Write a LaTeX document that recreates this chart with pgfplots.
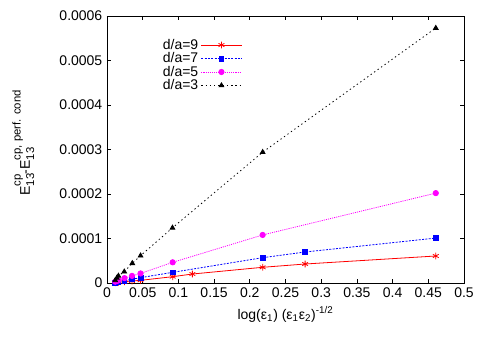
\documentclass[border=0pt]{standalone}
\usepackage{fontspec}
\setmainfont{Liberation Sans}
\usepackage{pgfplots}
\pgfplotsset{compat=1.18}
\definecolor{gpred}{RGB}{255,0,0}
\definecolor{gpblue}{RGB}{0,0,255}
\definecolor{gpmag}{RGB}{255,0,255}

\newcommand{\Ecp}[1]{E\rlap{\raisebox{-0.6ex}{\fontsize{8.5}{9}\selectfont 13}}\raisebox{1.25ex}{\fontsize{8.5}{9}\selectfont #1}}

\begin{document}
\begin{tikzpicture}
\useasboundingbox (-80.25pt,-42.75pt) rectangle (283.5pt,212.25pt);
\begin{axis}[
    scale only axis,
    width=267.75pt,
    height=200.25pt,
    xmin=0, xmax=0.5,
    ymin=0, ymax=0.0006,
    xtick={0,0.05,...,0.5},
    ytick={0,0.0001,...,0.0006},
    scaled x ticks=false,
    scaled y ticks=false,
    xticklabel style={/pgf/number format/fixed,/pgf/number format/precision=2},
    yticklabel style={/pgf/number format/fixed,/pgf/number format/precision=4},
    /pgf/number format/assume math mode=true,
    tick align=inside,
    major tick length=3pt,
    axis line style={line width=0.7pt},
    tick style={line width=0.5pt,black},
    xlabel={log(ε\textsubscript{1}) (ε\textsubscript{1}ε\textsubscript{2})\textsuperscript{-1/2}},
    ylabel={\Ecp{cp}-\Ecp{cp, perf. cond}},
    ylabel style={yshift=12pt,xshift=5pt},
    legend style={at={(0.39,0.935)},anchor=north east,draw=none,fill=none,
        row sep=-3pt, font=\fontsize{10.5}{12}\selectfont},
    legend cell align=right,
    legend plot pos=right,
    legend image code/.code={\draw[mark repeat=2,mark phase=2,#1]
        plot coordinates {(0cm,0cm) (0.53cm,0cm) (1.06cm,0cm)};},
    font=\fontsize{10.5}{12}\selectfont,
]
\addplot[gpred, line width=0.6pt, mark=asterisk, mark size=2.5pt] coordinates {
    (0.0115,0.0000005) (0.0138,0.000001) (0.016,0.0000015) (0.0245,0.000003)
    (0.035,0.0000045) (0.047,0.000006) (0.092,0.0000142) (0.1196,0.0000202)
    (0.218,0.0000353) (0.2775,0.0000427) (0.4605,0.0000607)
};
\addplot[gpblue, line width=0.6pt, dash pattern=on 1.5pt off 1pt, mark=square*, mark size=1.8pt, mark options={solid}] coordinates {
    (0.0115,0.000001) (0.0138,0.0000018) (0.016,0.0000025) (0.0245,0.000005)
    (0.035,0.0000085) (0.047,0.000012) (0.092,0.000024) (0.218,0.0000569)
    (0.2775,0.0000697) (0.4605,0.000101)
};
\addplot[gpmag, line width=0.6pt, dash pattern=on 0.8pt off 0.8pt, mark=*, mark size=2pt, mark options={solid}] coordinates {
    (0.0115,0.000003) (0.0138,0.0000045) (0.016,0.000006) (0.0245,0.000011)
    (0.035,0.000016) (0.047,0.0000215) (0.092,0.0000465) (0.218,0.000108)
    (0.4605,0.000202)
};
\addplot[black, line width=0.6pt, dash pattern=on 1pt off 2.2pt, mark=triangle*, mark size=2pt, mark options={solid}] coordinates {
    (0.0115,0.000006) (0.0138,0.0000115) (0.016,0.000016) (0.0242,0.0000254)
    (0.0354,0.0000443) (0.047,0.0000614) (0.0917,0.000124) (0.218,0.000294)
    (0.4605,0.000573)
};
\legend{d/a=9,d/a=7,d/a=5,d/a=3}
\end{axis}
\end{tikzpicture}
\end{document}
